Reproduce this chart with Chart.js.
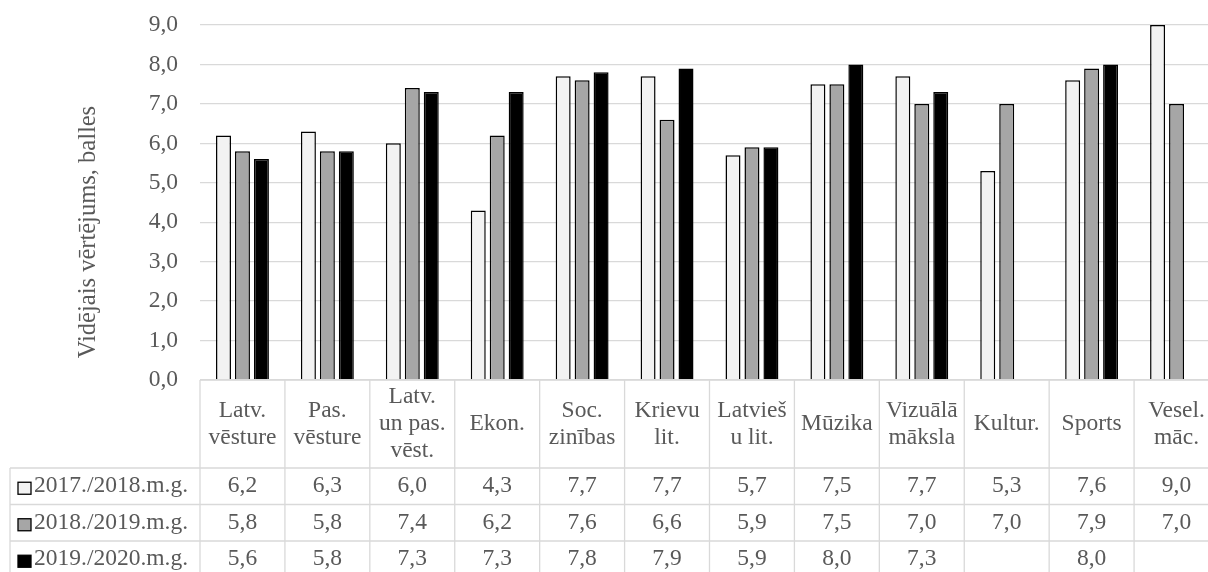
<!DOCTYPE html>
<html>
<head>
<meta charset="utf-8">
<script src="https://cdn.jsdelivr.net/npm/chart.js@4.4.1/dist/chart.umd.min.js"></script>
<style>
  html, body { margin: 0; padding: 0; background: #fff; overflow: hidden; }
</style>
</head>
<body>
<canvas id="bar-graph" width="1220" height="572"></canvas>
<script>
// chart data
var categories = [
	['Latv.', 'vēsture'], ['Pas.', 'vēsture'], ['Latv.', 'un pas.', 'vēst.'], ['Ekon.'],
	['Soc.', 'zinības'], ['Krievu', 'lit.'], ['Latvieš', 'u lit.'], ['Mūzika'],
	['Vizuālā', 'māksla'], ['Kultur.'], ['Sports'], ['Vesel.', 'māc.']
];
var seriesNames = ['2017./2018.m.g.', '2018./2019.m.g.', '2019./2020.m.g.'];
var values2017 = [6.2, 6.3, 6.0, 4.3, 7.7, 7.7, 5.7, 7.5, 7.7, 5.3, 7.6, 9.0];
var values2018 = [5.8, 5.8, 7.4, 6.2, 7.6, 6.6, 5.9, 7.5, 7.0, 7.0, 7.9, 7.0];
var values2019 = [5.6, 5.8, 7.3, 7.3, 7.8, 7.9, 5.9, 8.0, 7.3, null, 8.0, null];
var yTicks = [0, 1, 2, 3, 4, 5, 6, 7, 8, 9];
var yTitle = 'Vidējais vērtējums, balles';
var seriesColors = ['#f2f2f2', '#a6a6a6', '#000000'];

var textColor = '#595959',
    lineColor = '#d9d9d9',
    fontFamily = '"Liberation Serif", "Times New Roman", serif',
    fontSize = 23.5;

function fmt(v) {
	return v.toFixed(1).replace('.', ',');
}

// data table under the plot, aligned with the category scale
var tablePlugin = {
	id: 'dataTable',
	afterDraw: function(chart) {
		var ctx = chart.ctx,
		    area = chart.chartArea,
		    xs = chart.scales.x,
		    n = chart.data.labels.length,
		    colW = (area.right - area.left) / n,
		    headTop = area.bottom,
		    headBottom = 468,
		    rowH = 36.5,
		    legendLeft = 10,
		    bottomY = headBottom + rowH * 3;

		ctx.save();
		ctx.strokeStyle = lineColor;
		ctx.lineWidth = 1.3;
		ctx.beginPath();
		ctx.moveTo(area.left, headTop);
		ctx.lineTo(area.right, headTop);
		for (var r = 0; r <= 3; r++) {
			ctx.moveTo(legendLeft, headBottom + r * rowH);
			ctx.lineTo(area.right, headBottom + r * rowH);
		}
		for (var c = 0; c <= n; c++) {
			var x = area.left + c * colW;
			ctx.moveTo(x, headTop);
			ctx.lineTo(x, bottomY);
		}
		ctx.moveTo(legendLeft, headBottom);
		ctx.lineTo(legendLeft, bottomY);
		ctx.stroke();

		ctx.fillStyle = textColor;
		ctx.font = fontSize + 'px ' + fontFamily;
		ctx.textAlign = 'center';
		ctx.textBaseline = 'middle';

		// header labels
		var lh = 27, midHead = (headTop + headBottom) / 2;
		chart.data.labels.forEach(function(lbl, i) {
			var cx = xs.getPixelForValue(i);
			var lines = Array.isArray(lbl) ? lbl : [lbl];
			var y0 = midHead - (lines.length - 1) * lh / 2;
			lines.forEach(function(t, k) {
				ctx.fillText(t, cx, y0 + k * lh);
			});
		});

		// value rows + legend keys
		chart.data.datasets.forEach(function(ds, r) {
			var cy = headBottom + r * rowH + rowH / 2;
			ds.data.forEach(function(v, i) {
				if (v === null) return;
				ctx.fillText(fmt(v), xs.getPixelForValue(i), cy);
			});
			ctx.fillStyle = ds.backgroundColor;
			ctx.fillRect(18, cy - 4, 13, 12);
			ctx.strokeStyle = '#000';
			ctx.lineWidth = 1.3;
			ctx.strokeRect(18, cy - 4, 13, 12);
			ctx.fillStyle = textColor;
			ctx.textAlign = 'left';
			ctx.fillText(ds.label, 34, cy);
			ctx.textAlign = 'center';
		});

		// y axis title (sits a bit below the plot middle in the original)
		ctx.translate(89, 232);
		ctx.rotate(-Math.PI / 2);
		ctx.font = '24.5px ' + fontFamily;
		ctx.fillText(yTitle, 0, 0);
		ctx.restore();
	}
};

var chartElem = document.getElementById('bar-graph');

var config = {
	type: 'bar',
	data: {
		labels: categories,
		datasets: [values2017, values2018, values2019].map(function(vals, i) {
			return {
				label: seriesNames[i],
				data: vals,
				backgroundColor: seriesColors[i],
				borderColor: '#000000',
				borderWidth: 1.5,
				categoryPercentage: 0.67,
				barPercentage: 0.79
			};
		})
	},
	options: {
		responsive: false,
		animation: false,
		devicePixelRatio: 1,
		layout: { padding: { top: 25, right: 1, left: 0, bottom: 0 } },
		plugins: {
			legend: { display: false },
			tooltip: { enabled: false }
		},
		scales: {
			x: {
				grid: { display: false, drawTicks: false },
				border: { display: false },
				ticks: { display: false },
				afterFit: function(scale) { scale.height = 572 - 380; }
			},
			y: {
				min: 0,
				max: 9,
				afterBuildTicks: function(scale) {
					scale.ticks = yTicks.map(function(v) { return { value: v }; });
				},
				grid: { color: lineColor, lineWidth: 1.3, drawTicks: false },
				border: { display: false },
				ticks: {
					padding: 22,
					color: textColor,
					font: { family: fontFamily, size: fontSize },
					callback: function(v) { return fmt(v); }
				},
				afterFit: function(scale) {
					scale.width = 200;
					scale.paddingTop = 0;
					scale.paddingBottom = 0;
				}
			}
		}
	},
	plugins: [tablePlugin]
};

var graph = new Chart(chartElem, config);
</script>
</body>
</html>
